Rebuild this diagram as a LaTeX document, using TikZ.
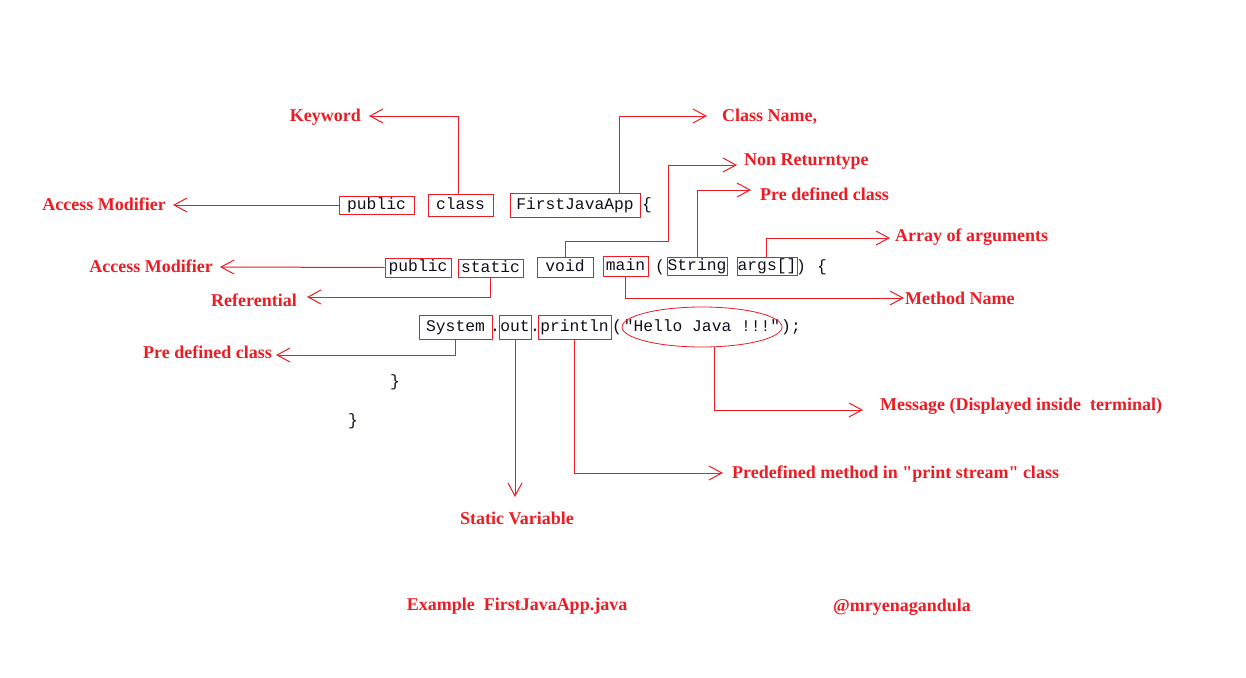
\documentclass[tikz,border=0pt]{standalone}
\usepackage{fontspec}
\setmainfont{Liberation Serif}[Ligatures=TeXOff]
\setmonofont{Liberation Mono}
\usetikzlibrary{arrows.meta,shapes.geometric}
\definecolor{pred}{RGB}{237,28,36}
\definecolor{codec}{RGB}{15,15,30}
\tikzset{
  lbl/.style={text=pred,font=\bfseries\fontsize{18}{20}\selectfont,inner sep=0pt},
  code/.style={text=codec,font=\ttfamily\fontsize{16.3}{18}\selectfont,inner sep=0pt,text height=11pt,text depth=3pt},
  cbox/.style={code,draw=pred,line width=1pt},
  arr/.style={draw=pred,line width=1pt,-{Straight Barb[length=13pt,width=14pt]}}
}
\begin{document}
\begin{tikzpicture}[x=1pt,y=-1pt]
\useasboundingbox[fill=white] (0,0) rectangle (1246,677);
% row 1
\node[cbox,minimum width=75pt,minimum height=18pt] (pub1) at (376.5,205) {public};
\node[cbox,minimum width=65pt,minimum height=22pt] (cls) at (460.5,205) {class};
\node[cbox,minimum width=130pt,minimum height=24pt] (fja) at (575,205) {FirstJavaApp};
\node[code] (br1) at (647,205) {\{};
% row 2
\node[cbox,minimum width=66pt,minimum height=19pt] (pub2) at (418,267.5) {public};
\node[cbox,minimum width=65pt,minimum height=18pt] (stat) at (490.5,268) {static};
\node[cbox,minimum width=56pt,minimum height=20pt] (void) at (565,267) {void};
\node[cbox,minimum width=45pt,minimum height=20pt] (mainb) at (625.5,266) {main};
\node[code] (po2) at (660,267) {(};
\node[cbox,minimum width=60pt,minimum height=18pt] (str) at (697,266) {String};
\node[cbox,minimum width=60pt,minimum height=18pt] (args) at (767,266) {args[]};
\node[code] (pc2) at (801,267) {)};
\node[code] (br2) at (822,267) {\{};
% row 3
\node[cbox,minimum width=73pt,minimum height=24pt] (sys) at (455.5,327) {System};
\node[code] (d1) at (495,327) {.};
\node[cbox,minimum width=32pt,minimum height=24pt] (outb) at (515,327) {out};
\node[code] (d2) at (535,327) {.};
\node[cbox,minimum width=73pt,minimum height=24pt] (prn) at (574.5,327) {println};
\node[code] (po3) at (617,327) {(};
\node[code] (msgt) at (702,327) {"Hello Java !!!"};
\node[draw=pred,line width=0.8pt,ellipse,minimum width=160pt,minimum height=40pt,inner sep=0pt] (msg) at (702,327) {};
\node[code] (pc3) at (791,327) {);};
\node[code] (cb1) at (395,382) {\}};
\node[code] (cb2) at (353,421) {\}};
% tips
\coordinate (t1) at (369,116);
\coordinate (t2) at (707,116);
\coordinate (t3) at (173,205);
\coordinate (c1) at (668,241);
\coordinate (t4) at (737,165);
\coordinate (t5) at (751,190);
\coordinate (t6) at (890,238);
\coordinate (t7) at (904,298);
\coordinate (t8) at (220,267);
\coordinate (t9) at (307,297);
\coordinate (t10) at (276,355);
\coordinate (t11) at (515,497);
\coordinate (t12) at (723,473);
\coordinate (t13) at (863,410);
% labels
\node[lbl,anchor=east] (lkw) at (361,117) {Keyword};
\node[lbl,anchor=west] (lcn) at (722,117) {Class Name,};
\node[lbl,anchor=east] (lam1) at (166,204) {Access Modifier};
\node[lbl,anchor=west] (lnr) at (744,162) {Non Returntype};
\node[lbl,anchor=west] (lpc1) at (760,194) {Pre defined class};
\node[lbl,anchor=west] (laa) at (895,237) {Array of arguments};
\node[lbl,anchor=west] (lmn) at (905,298) {Method Name};
\node[lbl,anchor=east] (lam2) at (213,266) {Access Modifier};
\node[lbl,anchor=east] (lref) at (297,300) {Referential};
\node[lbl,anchor=east] (lpc2) at (272,352) {Pre defined class};
\node[lbl] (lsv) at (517,518) {Static Variable};
\node[lbl,anchor=west] (lpm) at (732,474) {Predefined method in "print stream" class};
\node[lbl,anchor=west] (lmsg) at (880,406) {Message (Displayed inside\ \ terminal)};
\node[lbl] (lex) at (517,606) {Example\ \ FirstJavaApp.java};
\node[lbl] (lau) at (902,607) {@mryenagandula};
% connectors
\draw[arr] ([xshift=-2.5pt]cls.north) |- (t1);
\draw[arr] ([xshift=44pt]fja.north) |- (t2);
\draw[arr] (pub1.west) -- (t3);
\draw[arr] (void.north) |- (c1) |- (t4);
\draw[arr] (str.north) |- (t5);
\draw[arr] ([xshift=-1pt]args.north) |- (t6);
\draw[arr] (mainb.south) |- (t7);
\draw[arr] (pub2.west) -- (t8);
\draw[arr] (stat.south) |- (t9);
\draw[arr] (sys.south) |- (t10);
\draw[arr] (outb.south) -- (t11);
\draw[arr] (prn.south) |- (t12);
\draw[arr] ([xshift=12pt,yshift=0.3pt]msg.south) |- (t13);
\end{tikzpicture}
\end{document}
